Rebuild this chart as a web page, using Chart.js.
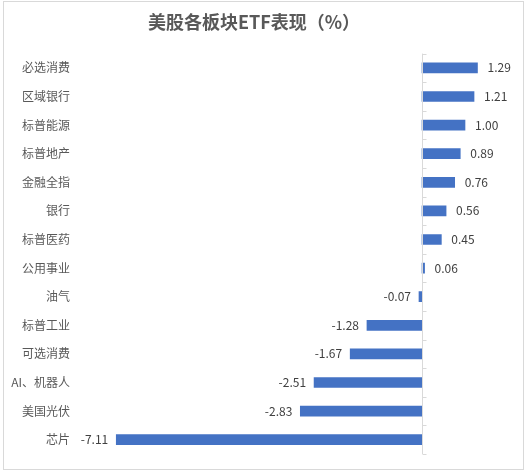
<!DOCTYPE html>
<html>
<head>
<meta charset="utf-8">
<script src="https://cdn.jsdelivr.net/npm/chart.js@4/dist/chart.umd.min.js"></script>
<style>
  html, body { margin: 0; padding: 0; background: #fff; }
  #wrap { position: relative; width: 527px; height: 474px; }
  #frame { position: absolute; left: 3px; top: 1px; width: 519px; height: 467px; border: 1px solid #d9d9d9; pointer-events: none; }
</style>
</head>
<body>
<div id="wrap">
  <canvas id="etfChart" width="527" height="474"></canvas>
  <div id="frame"></div>
</div>
<script>
// 板块名称（从上到下）
const categories = ['必选消费', '区域银行', '标普能源', '标普地产', '金融全指', '银行', '标普医药',
    '公用事业', '油气', '标普工业', '可选消费', 'AI、机器人', '美国光伏', '芯片'];
// 涨跌幅 (%)
const values = [1.29, 1.21, 1.00, 0.89, 0.76, 0.56, 0.45, 0.06, -0.07, -1.28, -1.67, -2.51, -2.83, -7.11];

const fontFamily = '"Noto Sans CJK SC", "Microsoft YaHei", sans-serif';

// 数据标签 + 零轴线
const barLabels = {
    id: 'barLabels',
    afterDatasetsDraw(chart) {
        const c = chart.ctx;
        const xScale = chart.scales.x;
        const yScale = chart.scales.y;
        const x0 = Math.round(xScale.getPixelForValue(0)) + 0.5;
        const area = chart.chartArea;

        // 零轴线和刻度
        c.save();
        c.strokeStyle = '#d9d9d9';
        c.lineWidth = 1;
        c.beginPath();
        c.moveTo(x0, area.top);
        c.lineTo(x0, area.bottom);
        const step = (area.bottom - area.top) / categories.length;
        for (let i = 0; i <= categories.length; i++) {
            const y = Math.round(area.top + i * step) + 0.5;
            c.moveTo(x0, y);
            c.lineTo(x0 + 4, y);
        }
        c.stroke();
        c.restore();

        // 数值标签
        const meta = chart.getDatasetMeta(0);
        c.save();
        c.font = '12px ' + fontFamily;
        c.fillStyle = '#404040';
        c.textBaseline = 'middle';
        meta.data.forEach((bar, i) => {
            const v = values[i];
            const txt = v.toFixed(2);
            if (v >= 0) {
                c.textAlign = 'left';
                c.fillText(txt, bar.x + 10, bar.y);
            } else {
                c.textAlign = 'right';
                c.fillText(txt, bar.x - 8, bar.y);
            }
        });
        c.restore();
    }
};

const ctx = document.getElementById('etfChart').getContext('2d');

const etfChart = new Chart(ctx, {
    type: 'bar',
    data: {
        labels: categories,
        datasets: [{
            data: values,
            backgroundColor: '#4472c4',
            borderWidth: 0,
            barThickness: 10
        }]
    },
    options: {
        indexAxis: 'y',
        responsive: false,
        animation: false,
        layout: {
            padding: { left: 0, right: 19, top: 0, bottom: 20 }
        },
        plugins: {
            legend: { display: false },
            tooltip: { enabled: false },
            title: {
                display: true,
                text: '美股各板块ETF表现（%）',
                color: '#595959',
                font: { family: fontFamily, size: 18, weight: 'bold' },
                padding: { top: 11, bottom: 21 }
            }
        },
        scales: {
            x: {
                display: false,
                min: -8,
                max: 2
            },
            y: {
                grid: { display: false, drawTicks: false },
                border: { display: false },
                ticks: {
                    color: '#595959',
                    font: { family: fontFamily, size: 12 },
                    padding: 8
                },
                afterFit(scale) {
                    scale.width = 78;
                }
            }
        }
    },
    plugins: [barLabels]
});
</script>
</body>
</html>
